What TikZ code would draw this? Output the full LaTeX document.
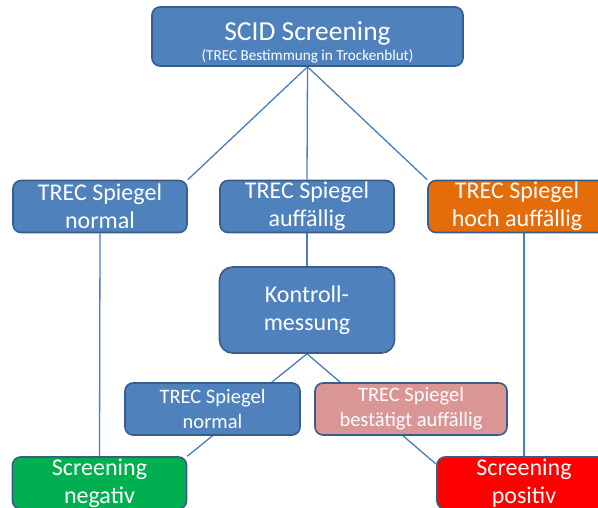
\documentclass[tikz,border=0pt]{standalone}
\usepackage{fontspec}
\setmainfont{Carlito}
\usetikzlibrary{backgrounds}
\definecolor{boxblue}{HTML}{4F81BD}
\definecolor{boxedge}{HTML}{385D8A}
\definecolor{linkblue}{HTML}{4A7EBB}
\definecolor{boxorange}{HTML}{E46C0A}
\definecolor{boxrose}{HTML}{D99694}
\definecolor{boxgreen}{HTML}{00B050}
\definecolor{boxred}{HTML}{FF0000}
\tikzset{
  stepbox/.style   = {rectangle, rounded corners=8pt, draw=boxedge, line width=1.6pt,
                      fill=boxblue, text=white, align=center, inner sep=0pt},
  link/.style      = {draw=linkblue, line width=1.3pt},
  bigtext/.style   = {font=\fontsize{24}{28}\selectfont},
  smalltext/.style = {font=\fontsize{20.5}{25}\selectfont},
}

\begin{document}
\begin{tikzpicture}[
    x=1pt, y=-1pt,
    wide/.style={minimum width=174pt, minimum height=52pt},
  ]
  \useasboundingbox (0,0) rectangle (598,508);

  % ---- top ---------------------------------------------------------------
  \node[stepbox, minimum width=311pt, minimum height=59pt] (scid) at (307.5,36.5)
    {{\fontsize{27.5}{30}\selectfont\rule{0pt}{30pt}SCID Screening}\\[3pt]
     {\fontsize{15.2}{16}\selectfont (TREC Bestimmung in Trockenblut)}};

  % ---- first measurement -------------------------------------------------
  \node[stepbox, wide, bigtext] (norm) at (100,206.5) {TREC Spiegel\\normal};
  \node[stepbox, wide, bigtext] (auff) at (307,206.5) {TREC Spiegel\\auffällig};
  \node[stepbox, wide, bigtext, minimum width=178pt, fill=boxorange] (hoch) at (517,206.5)
    {TREC Spiegel\\hoch auffällig};

  % ---- control -----------------------------------------------------------
  \node[stepbox, bigtext, rounded corners=13pt, minimum width=175pt, minimum height=86pt]
    (kontr) at (307,310) {Kontroll-\\messung};

  \node[stepbox, smalltext, minimum width=175pt, minimum height=52pt] (norm2) at (212.5,409)
    {TREC Spiegel\\normal};
  \node[stepbox, smalltext, minimum width=192pt, minimum height=52pt, fill=boxrose] (best)
    at (411,409) {TREC Spiegel\\bestätigt auffällig};

  % ---- result ------------------------------------------------------------
  \node[stepbox, wide, bigtext, fill=boxgreen] (neg) at (99.5,483) {Screening\\negativ};
  \node[stepbox, wide, bigtext, fill=boxred] (pos) at (524,483) {Screening\\positiv};

  % ---- connectors --------------------------------------------------------
  \begin{scope}[on background layer]
    \draw[link] (scid.south) -- (norm.north east);
    \draw[link] (scid.south) -- (auff.north);
    \draw[link] (scid.south) -- (hoch.north west);
    \draw[link] (norm.south) -- (neg.north);
    \draw[link] (auff.south) -- (kontr.north);
    \draw[link] (hoch.south -| pos.north) -- (pos.north);
    \draw[link] (kontr.south) -- ([xshift=-29pt]norm2.north east);
    \draw[link] (kontr.south) -- ([xshift=26pt]best.north west);
    \draw[link] (norm2.south) -- (neg.north east);
    \draw[link] ([xshift=-8pt]best.south) -- ([yshift=-8pt]pos.north west);
  \end{scope}
\end{tikzpicture}
\end{document}
